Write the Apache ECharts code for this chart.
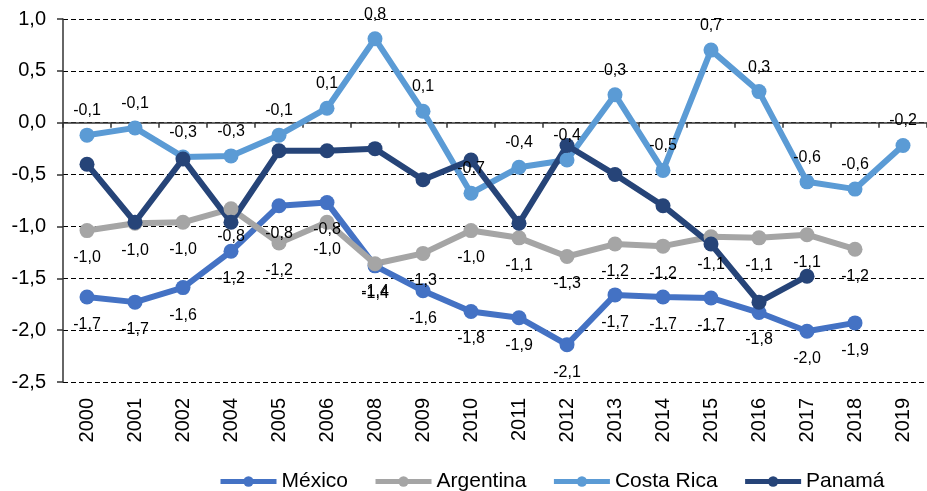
<!DOCTYPE html>
<html>
<head>
<meta charset="utf-8">
<script src="https://cdn.jsdelivr.net/npm/echarts@6/dist/echarts.min.js"></script>
<style>html,body{margin:0;padding:0;background:#fff;}#c{width:927px;height:491px;}</style>
</head>
<body>
<div id="c"></div>
<script>
const categories = ['2000','2001','2002','2004','2005','2006','2008','2009','2010','2011','2012','2013','2014','2015','2016','2017','2018','2019'];
const mexico    = [-1.68,-1.73,-1.59,-1.24,-0.80,-0.77,-1.38,-1.62,-1.82,-1.88,-2.14,-1.66,-1.68,-1.69,-1.83,-2.01,-1.93,null];
const argentina = [-1.04,-0.97,-0.96,-0.83,-1.16,-0.96,-1.36,-1.26,-1.04,-1.11,-1.29,-1.17,-1.19,-1.10,-1.11,-1.08,-1.22,null];
const costaRica = [-0.12,-0.05,-0.33,-0.32,-0.12,0.14,0.81,0.11,-0.68,-0.43,-0.36,0.27,-0.46,0.70,0.30,-0.57,-0.64,-0.22];
const panama    = [-0.40,-0.96,-0.35,-0.96,-0.27,-0.27,-0.25,-0.55,-0.36,-0.97,-0.22,-0.50,-0.80,-1.17,-1.73,-1.48,null,null];
const yTicks = {min:-2.5, max:1.0, interval:0.5};

const FONT = "'Liberation Sans', Arial, sans-serif";
const fmt = v => Number(v).toFixed(1).replace('.', ',');

function mk(name, data, color, labelPos, showLabel) {
  return {
    name, type:'line', data, xAxisIndex:0,
    symbol:'circle', symbolSize:15,
    lineStyle:{color, width:6},
    itemStyle:{color},
    connectNulls:false,
    label:{
      show:showLabel, position:labelPos, distance: labelPos==='top'?9:12,
      color:'#000', fontSize:16, fontFamily:FONT,
      formatter:p=>fmt(p.value)
    },
    emphasis:{disabled:true},
    animation:false
  };
}

const chart = echarts.init(document.getElementById('c'));
chart.setOption({
  animation:false,
  textStyle:{fontFamily:FONT},
  grid:{left:63, top:19, width:866, height:363, containLabel:false},
  legend:{
    left:213, top:466, itemWidth:56, itemHeight:13, itemGap:25,
    lineStyle:{width:5},
    textStyle:{fontSize:21, color:'#000', fontFamily:FONT},
    data:['México','Argentina','Costa Rica','Panamá']
  },
  xAxis:[
    {type:'category', data:categories, position:'bottom', boundaryGap:true,
     axisLine:{show:false, onZero:false}, axisTick:{show:false},
     axisLabel:{rotate:90, fontSize:20, color:'#000', margin:16, fontFamily:FONT},
     splitLine:{show:false}},
    {type:'category', data:categories, position:'bottom', boundaryGap:true,
     axisLine:{show:true, onZero:true, onZeroAxisIndex:0, lineStyle:{color:'#333', width:1.5}},
     axisTick:{show:true, length:5, lineStyle:{color:'#333', width:1.5}},
     axisLabel:{show:false}, splitLine:{show:false}}
  ],
  yAxis:{
    type:'value', min:yTicks.min, max:yTicks.max, interval:yTicks.interval,
    axisLine:{show:true, lineStyle:{color:'#333', width:1.5}},
    axisTick:{show:true, length:6, lineStyle:{color:'#333', width:1.5}},
    axisLabel:{fontSize:20, color:'#000', margin:17, formatter:v=>fmt(v), fontFamily:FONT},
    splitLine:{show:true, lineStyle:{color:'#000', width:1, type:[5,3]}}
  },
  series:[
    mk('México', mexico, '#4472C4', 'bottom', true),
    mk('Argentina', argentina, '#A5A5A5', 'bottom', true),
    mk('Costa Rica', costaRica, '#5B9BD5', 'top', true),
    mk('Panamá', panama, '#264478', 'top', false)
  ]
});
</script>
</body>
</html>
